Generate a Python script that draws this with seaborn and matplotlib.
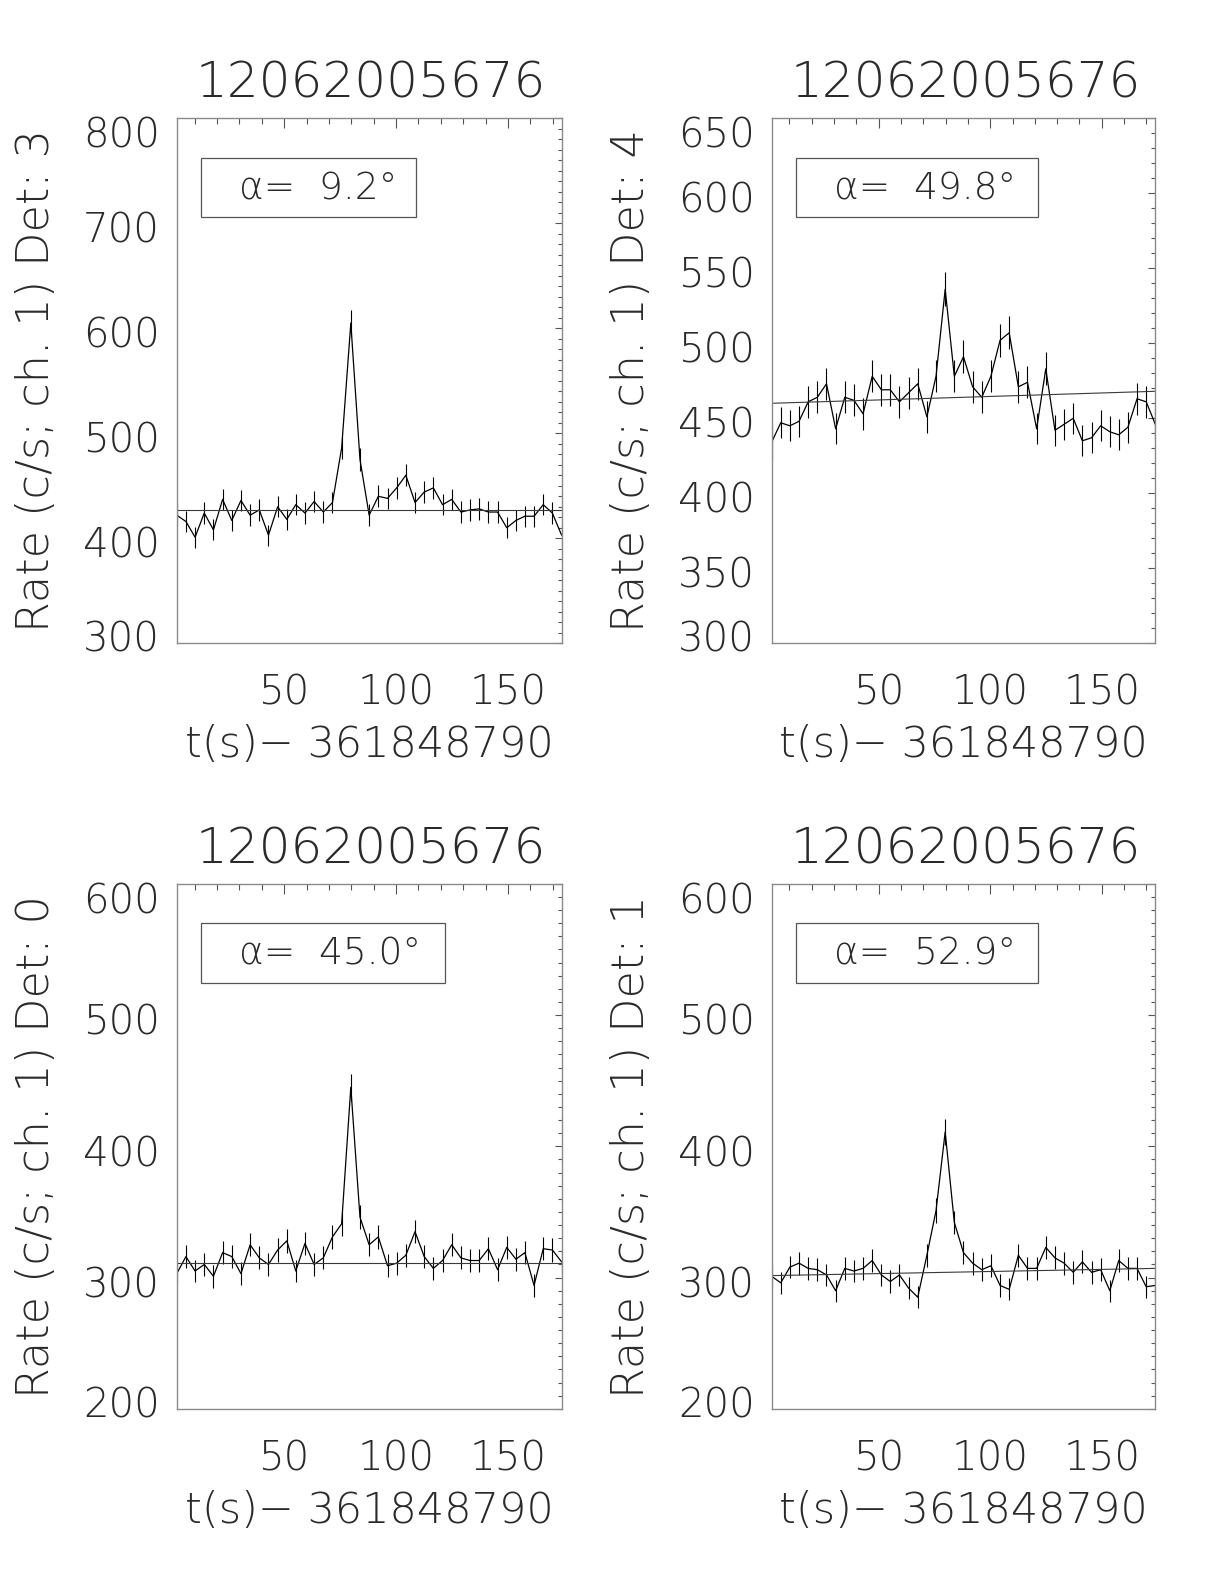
import matplotlib
matplotlib.use('Agg')
import matplotlib.pyplot as plt
from matplotlib import font_manager
from matplotlib.patches import Rectangle
from matplotlib.ticker import MultipleLocator
from matplotlib.transforms import ScaledTranslation
import seaborn as sns
import pandas as pd

# --- data ------------------------------------------------------------------
TRIGGER = '12062005676'
XLABEL = 't(s)\u2212 361848790'

# bin positions, s since 361848790 (4.096 s bins)
t = [2.0, 6.1, 10.2, 14.3, 18.4, 22.5, 26.6, 30.7, 34.8, 38.9, 43.0,
     47.1, 51.2, 55.2, 59.3, 63.4, 67.5, 71.6, 75.7, 79.8, 83.9, 88.0,
     92.1, 96.2, 100.3, 104.4, 108.5, 112.6, 116.7, 120.8, 124.9, 129.0,
     133.1, 137.2, 141.3, 145.4, 149.5, 153.6, 157.6, 161.7, 165.8, 169.9,
     174.0]

detectors = [3, 4, 0, 1]
alpha_deg = [9.2, 49.8, 45.0, 52.9]
y_limits = [(300, 800), (300, 650), (200, 600), (200, 600)]
y_major = [100, 50, 100, 100]

rate_det3 = [422, 416, 401, 424, 408, 437, 417, 436, 422, 427, 403, 430, 418,
             432, 424, 435, 425, 434, 486, 605, 475, 422, 440, 438, 448, 460,
             434, 444, 448, 432, 437, 425, 427, 428, 425, 425, 410, 417, 421,
             421, 432, 424, 403]
err_det3 = [10.2, 10.1, 9.9, 10.2, 10.0, 10.3, 10.1, 10.3, 10.2, 10.2, 9.9,
            10.2, 10.1, 10.3, 10.2, 10.3, 10.2, 10.3, 10.9, 12.2, 10.8, 10.2,
            10.4, 10.3, 10.5, 10.6, 10.3, 10.4, 10.5, 10.3, 10.3, 10.2, 10.2,
            10.2, 10.2, 10.2, 10.0, 10.1, 10.1, 10.1, 10.3, 10.2, 9.9]

rate_det4 = [434, 447, 445, 448, 461, 464, 473, 443, 464, 462, 453, 478, 469,
             469, 461, 467, 473, 451, 478, 536, 478, 491, 471, 464, 478, 502,
             507, 471, 474, 443, 483, 442, 446, 450, 435, 437, 445, 441, 439,
             444, 463, 461, 446]
err_det4 = [10.3, 10.4, 10.4, 10.5, 10.6, 10.6, 10.7, 10.4, 10.6, 10.6, 10.5,
            10.8, 10.7, 10.7, 10.6, 10.7, 10.7, 10.5, 10.8, 11.4, 10.8, 10.9,
            10.7, 10.6, 10.8, 11.1, 11.1, 10.7, 10.8, 10.4, 10.9, 10.4, 10.4,
            10.5, 10.3, 10.3, 10.4, 10.4, 10.4, 10.4, 10.6, 10.6, 10.4]

rate_det0 = [303, 316, 305, 310, 301, 319, 316, 303, 325, 315, 310, 321, 328,
             305, 326, 310, 315, 331, 341, 445, 346, 325, 331, 309, 311, 317,
             335, 316, 307, 313, 325, 315, 313, 313, 322, 306, 323, 314, 319,
             294, 322, 321, 312]
err_det0 = [8.6, 8.8, 8.6, 8.7, 8.6, 8.8, 8.8, 8.6, 8.9, 8.8, 8.7, 8.9, 8.9,
            8.6, 8.9, 8.7, 8.8, 9.0, 9.1, 10.4, 9.2, 8.9, 9.0, 8.7, 8.7, 8.8,
            9.0, 8.8, 8.7, 8.7, 8.9, 8.8, 8.7, 8.7, 8.9, 8.6, 8.9, 8.8, 8.8,
            8.5, 8.9, 8.9, 8.7]

rate_det1 = [301, 296, 308, 311, 307, 306, 302, 290, 307, 305, 307, 313, 302,
             297, 302, 292, 285, 317, 351, 411, 342, 319, 311, 306, 309, 294,
             291, 317, 307, 307, 323, 315, 311, 304, 312, 304, 306, 290, 313,
             307, 307, 293, 294]
err_det1 = [8.6, 8.5, 8.7, 8.7, 8.7, 8.6, 8.6, 8.4, 8.7, 8.6, 8.7, 8.7, 8.6,
            8.5, 8.6, 8.4, 8.3, 8.8, 9.3, 10.0, 9.1, 8.8, 8.7, 8.6, 8.7, 8.5,
            8.4, 8.8, 8.7, 8.7, 8.9, 8.8, 8.7, 8.6, 8.7, 8.6, 8.6, 8.4, 8.7,
            8.7, 8.7, 8.5, 8.5]

# background fit, value at first and last bin
fit_start = [427, 460, 311, 301.5]
fit_end = [427, 468, 311, 307]

rates = [rate_det3, rate_det4, rate_det0, rate_det1]
errors = [err_det3, err_det4, err_det0, err_det1]

# --- layout ----------------------------------------------------------------
positions = [
    [0.1444, 0.5939, 0.3144, 0.3314],
    [0.6304, 0.5939, 0.3135, 0.3314],
    [0.1444, 0.1106, 0.3144, 0.3314],
    [0.6304, 0.1106, 0.3135, 0.3314],
]
box_right = [0.622, 0.694, 0.696, 0.694]

sns.set_style('white')


def pick_light_family():
    # thin strokes look closer to the IDL vector font
    prefs = ['DejaVu Sans', 'Lato', 'Roboto', 'Open Sans', 'Noto Sans', 'Inter']
    for name in prefs:
        for f in font_manager.fontManager.ttflist:
            w = f.weight if isinstance(f.weight, int) else 400
            if f.name == name and w <= 300 and f.style == 'normal':
                return name
    return 'DejaVu Sans'


FAMILY = pick_light_family()
plt.rcParams['font.family'] = [FAMILY, 'DejaVu Sans']
plt.rcParams['font.weight'] = 'light'
plt.rcParams['axes.labelweight'] = 'light'

TEXT = '#2a2a2a'
FRAME = '#8a8a8a'

fig = plt.figure(figsize=(12.24, 15.84), dpi=100)

for i in range(4):
    ax = fig.add_axes(positions[i])
    df = pd.DataFrame({'t': t, 'rate': rates[i], 'err': errors[i]})

    ax.vlines(df['t'], df['rate'] - df['err'], df['rate'] + df['err'],
              color='black', linewidth=0.8)
    sns.lineplot(data=df, x='t', y='rate', ax=ax, color='black',
                 linewidth=0.9, estimator=None, sort=False)
    sns.lineplot(x=[t[0], t[-1]], y=[fit_start[i], fit_end[i]], ax=ax,
                 color='#3a3a3a', linewidth=0.8)

    ax.set_xlim(t[0], t[-1])
    ax.set_ylim(*y_limits[i])
    ax.xaxis.set_major_locator(MultipleLocator(50))
    ax.xaxis.set_minor_locator(MultipleLocator(10))
    ax.yaxis.set_major_locator(MultipleLocator(y_major[i]))
    ax.yaxis.set_minor_locator(MultipleLocator(10))

    ax.tick_params(which='both', direction='in', top=True, right=True,
                   color='#555555', width=0.8, labelcolor=TEXT, labelsize=29)
    ax.tick_params(axis='x', which='major', length=7, pad=22)
    ax.tick_params(axis='x', which='minor', length=4)
    ax.tick_params(axis='y', which='major', length=5, pad=12)
    ax.tick_params(axis='y', which='minor', length=3)

    # IDL puts the y labels slightly below their ticks, end labels pulled in
    lo, hi = y_limits[i]
    for val, lab in zip(ax.get_yticks(), ax.get_yticklabels()):
        dy = -3
        if val == hi:
            dy = -10
        elif val == lo:
            dy = 5
        lab.set_transform(lab.get_transform() +
                          ScaledTranslation(0, dy / 72, fig.dpi_scale_trans))
    for spine in ax.spines.values():
        spine.set_color(FRAME)
        spine.set_linewidth(1.0)

    ax.set_xlabel(XLABEL, fontsize=31, color=TEXT, fontweight='light')
    ax.xaxis.set_label_coords(0.5, -0.193)
    ax.xaxis.label.set_va('center')
    ax.set_ylabel(f'Rate (c/s; ch. 1) Det: {detectors[i]}', fontsize=32,
                  color=TEXT, fontweight='light')
    ax.yaxis.set_label_coords(-0.365, 0.5)
    ax.yaxis.label.set_va('center')

    ax.text(0.505, 1.066, TRIGGER, transform=ax.transAxes, ha='center',
            va='center', fontsize=36, color=TEXT, fontweight='light')

    ax.add_patch(Rectangle((0.063, 0.812), box_right[i] - 0.063, 0.113,
                           transform=ax.transAxes, fill=False,
                           edgecolor='#555555', linewidth=0.9))
    ax.text(0.163, 0.866, f'\u03b1=  {alpha_deg[i]:.1f}\u00b0',
            transform=ax.transAxes, ha='left', va='center', fontsize=27,
            color=TEXT, fontweight='light')

fig.savefig('out.png', dpi=100, facecolor='white')
